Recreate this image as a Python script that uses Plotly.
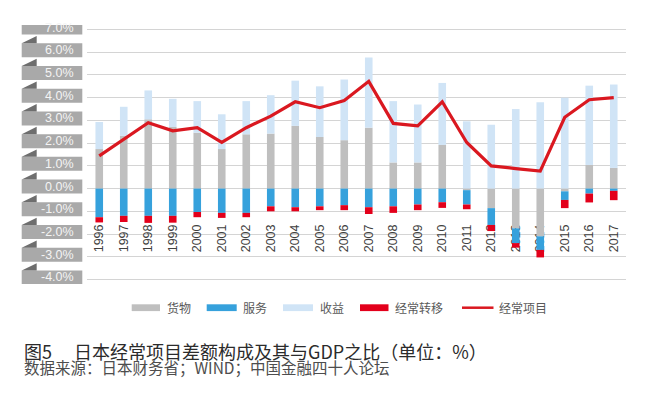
import plotly.graph_objects as go

years = [str(y) for y in range(1996, 2018)]
goods = [1.74, 2.32, 3.05, 2.71, 2.46, 1.74, 2.39, 2.42, 2.76, 2.27, 2.13, 2.68, 1.15, 1.15, 1.92,
         -0.07, -0.86, -1.75, -2.10, -0.12, 1.04, 0.91]
services = [-1.26, -1.20, -1.20, -1.20, -1.03, -1.07, -1.07, -0.78, -0.82, -0.78, -0.73, -0.82, -0.78,
            -0.70, -0.60, -0.63, -0.74, -0.65, -0.60, -0.38, -0.22, -0.10]
income = [1.19, 1.28, 1.27, 1.24, 1.39, 1.53, 1.46, 1.69, 1.99, 2.23, 2.67, 3.09, 2.70, 2.55, 2.73,
          2.96, 2.81, 3.50, 3.80, 4.00, 3.49, 3.67]
transfers = [-0.23, -0.27, -0.31, -0.30, -0.23, -0.22, -0.19, -0.22, -0.18, -0.17, -0.22, -0.30, -0.29,
             -0.25, -0.25, -0.21, -0.27, -0.20, -0.33, -0.36, -0.39, -0.41]
current = [1.44, 2.17, 2.90, 2.54, 2.68, 2.03, 2.68, 3.19, 3.82, 3.56, 3.88, 4.72, 2.87, 2.76, 3.82,
           2.03, 1.00, 0.88, 0.77, 3.14, 3.91, 4.00]
ytick_vals = [7, 6, 5, 4, 3, 2, 1, 0, -1, -2, -3, -4]
ytick_text = ["7.0%", "6.0%", "5.0%", "4.0%", "3.0%", "2.0%", "1.0%", "0.0%", "-1.0%", "-2.0%", "-3.0%", "-4.0%"]
legend_names = ["货物", "服务", "收益", "经常转移", "经常项目"]
title_text = "图5　 日本经常项目差额构成及其与GDP之比（单位：%）"
source_text = "数据来源：日本财务省；WIND；中国金融四十人论坛"

C_GOODS = "#BFBFBF"
C_SERV = "#36A1DC"
C_INC = "#D0E4F6"
C_TRANS = "#E3001B"
C_LINE = "#DA1820"

# The page body has an 8px margin, so the figure is drawn 8px right/down.
OFF = 8
W, H = 648 - OFF, 402 - OFF
PLOT_L, PLOT_R, PLOT_T, PH = 87, 626, 25, 259   # in reference (window) pixels
PW = PLOT_R - PLOT_L
YR = [-4.2, 7.2]
PPU = PH / (YR[1] - YR[0])
ML = PLOT_L - OFF
MT = PLOT_T - OFF
MR = W - (PLOT_R - OFF)
MB = H - MT - PH

def px_x(px):
    return (px - PLOT_L) / PW

def px_y(py):
    return (PLOT_T + PH - py) / PH

fig = go.Figure()
fig.add_bar(x=years, y=goods, name=legend_names[0], marker_color=C_GOODS, marker_line_width=0)
fig.add_bar(x=years, y=services, name=legend_names[1], marker_color=C_SERV, marker_line_width=0)
fig.add_bar(x=years, y=income, name=legend_names[2], marker_color=C_INC, marker_line_width=0)
fig.add_bar(x=years, y=transfers, name=legend_names[3], marker_color=C_TRANS, marker_line_width=0)
fig.add_scatter(x=years, y=current, name=legend_names[4], mode="lines",
                line=dict(color=C_LINE, width=3.2))

shapes = []
annotations = []
# y-axis label tabs
for v, t in zip(ytick_vals, ytick_text):
    shapes.append(dict(type="rect", xref="paper", yref="y",
                       x0=px_x(21.7), x1=px_x(82.3), y0=v - 5 / PPU, y1=v + 9 / PPU,
                       fillcolor="#A9A9A9", line_width=0, layer="above"))
    shapes.append(dict(type="path", xref="paper", yref="y",
                       path="M %f,%f L %f,%f L %f,%f Z" % (px_x(21.7), v + 9 / PPU,
                                                           px_x(36.7), v + 16.3 / PPU,
                                                           px_x(36.7), v + 9 / PPU),
                       fillcolor="#6E6E6E", line_width=0, layer="above"))
    annotations.append(dict(xref="paper", yref="y", x=px_x(76), y=v + 2 / PPU, text=t,
                            showarrow=False, xanchor="right", yanchor="middle",
                            font=dict(family="Liberation Sans, Arial", size=12.5, color="#F4F4F4")))

# custom legend
leg_y = 307.7
swatches = [(131.7, 160, C_GOODS, 165), (206.7, 236.7, C_SERV, 240.5),
            (283, 313, C_INC, 318), (360, 388.5, C_TRANS, 393)]
for (x0, x1, c, tx), name in zip(swatches, legend_names[:4]):
    shapes.append(dict(type="rect", xref="paper", yref="paper", x0=px_x(x0), x1=px_x(x1),
                       y0=px_y(leg_y + 3.4), y1=px_y(leg_y - 3.4), fillcolor=c, line_width=0))
    annotations.append(dict(xref="paper", yref="paper", x=px_x(tx), y=px_y(leg_y), text=name,
                            showarrow=False, xanchor="left", yanchor="middle",
                            font=dict(family="Noto Sans CJK SC", size=12, color="#595959")))
shapes.append(dict(type="line", xref="paper", yref="paper", x0=px_x(462), x1=px_x(493.5),
                   y0=px_y(leg_y), y1=px_y(leg_y), line=dict(color=C_LINE, width=2.5)))
annotations.append(dict(xref="paper", yref="paper", x=px_x(497), y=px_y(leg_y), text=legend_names[4],
                        showarrow=False, xanchor="left", yanchor="middle",
                        font=dict(family="Noto Sans CJK SC", size=12, color="#595959")))

# title and source as one two-line text block
caption = ('<span style="font-size:18px;fill:#2B2B2B">' + title_text + '</span><br>'
           '<span style="font-size:15.5px;fill:#4D4D4D">' + source_text + '</span>')
annotations.append(dict(xref="paper", yref="paper", x=px_x(22), y=px_y(358), text=caption,
                        showarrow=False, xanchor="left", yanchor="middle", align="left",
                        font=dict(family="Noto Sans CJK SC", size=11.5, color="#2B2B2B")))

fig.update_layout(
    width=W, height=H,
    margin=dict(l=ML, r=MR, t=MT, b=MB, pad=0),
    paper_bgcolor="white", plot_bgcolor="white",
    barmode="relative", bargap=0.69,
    showlegend=False,
    shapes=shapes, annotations=annotations,
    xaxis=dict(type="category", anchor="free", position=px_y(221), showgrid=False,
               showline=False, zeroline=False, ticks="", ticklen=0, tickangle=-90,
               tickfont=dict(family="Liberation Sans, Arial", size=12.5, color="#404040"),
               layer="below traces"),
    yaxis=dict(range=YR, dtick=1, tick0=0, showgrid=True, gridcolor="#D4D4D4", gridwidth=1,
               zeroline=False, showticklabels=False, ticks="", showline=False),
)

fig.write_html("out.html")
